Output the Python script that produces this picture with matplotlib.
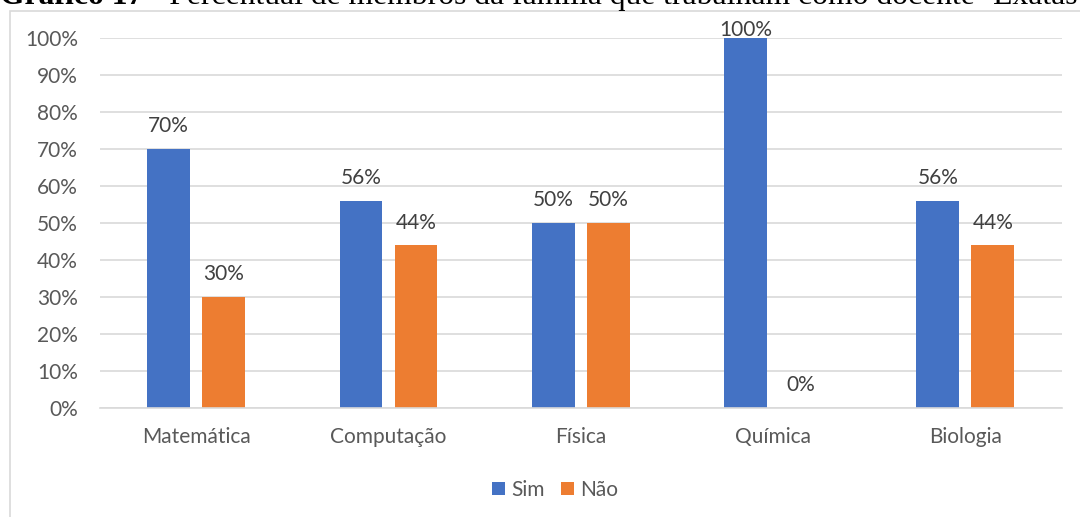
import matplotlib.pyplot as plt
import numpy as np
from matplotlib.patches import Rectangle

# dados
categorias = ["Matemática", "Computação", "Física", "Química", "Biologia"]
sim = [70, 56, 50, 100, 56]
nao = [30, 44, 50, 0, 44]
yticks = list(range(0, 101, 10))

azul = "#4472C4"
laranja = "#ED7D31"
cinza = "#595959"
fs = 15

plt.rcParams["font.family"] = ["Lato", "DejaVu Sans"]

fig = plt.figure(figsize=(10.8, 5.17), dpi=100)
ax = fig.add_axes([0.0926, 0.2108, 0.8904, 0.7157])

x = np.arange(len(categorias))
w = 0.2235
off = 0.143
b1 = ax.bar(x - off, sim, w, color=azul, label="Sim", zorder=2)
b2 = ax.bar(x + off, nao, w, color=laranja, label="Não", zorder=2)

# rótulos de dados
for bars, vals in ((b1, sim), (b2, nao)):
    for r, v in zip(bars, vals):
        dy = 1.5 if v >= 100 else 12
        ax.annotate(f"{v}%", (r.get_x() + r.get_width() / 2, v),
                    xytext=(0, dy), textcoords="offset points",
                    ha="center", va="baseline", fontsize=fs, color="#404040",
                    annotation_clip=False)

ax.set_xlim(-0.5, len(categorias) - 0.5)
ax.set_ylim(0, 100)
ax.set_yticks(yticks)
ax.set_yticklabels([f"{t}%" for t in yticks])
ax.set_xticks(x)
ax.set_xticklabels(categorias)
ax.tick_params(axis="both", length=0, labelsize=fs, labelcolor=cinza)
ax.tick_params(axis="y", pad=16)
ax.tick_params(axis="x", pad=14)
ax.grid(axis="y", color="#D9D9D9", linewidth=1.2, zorder=0)
for s in ["top", "right", "left"]:
    ax.spines[s].set_visible(False)
ax.spines["bottom"].set_color("#D9D9D9")
ax.spines["bottom"].set_linewidth(1.2)

fig.legend(loc="center", bbox_to_anchor=(0.514, 0.053), ncol=2, frameon=False,
           fontsize=fs, handlelength=0.62, handleheight=0.62, columnspacing=0.8,
           handletextpad=0.3, labelcolor=cinza)

# moldura do gráfico
fig.patches.append(Rectangle((9.5 / 1080, -0.1), 1.2, (517 - 11) / 517 + 0.1,
                             transform=fig.transFigure, fill=False,
                             edgecolor="#D9D9D9", linewidth=1.2))

# título (cortado no topo)
t1 = fig.text(0.0, 0.9923, "Gráfico 17", fontsize=22.8, fontweight="bold",
              family="Liberation Serif", va="baseline", ha="left")
fig.canvas.draw()
bb = t1.get_window_extent()
fig.text(bb.x1 / 1080, 0.9923, " - Percentual de membros da família que trabalham como docente -Exatas",
         fontsize=22.8, family="Liberation Serif", va="baseline", ha="left")

fig.savefig("out.png", dpi=100)
